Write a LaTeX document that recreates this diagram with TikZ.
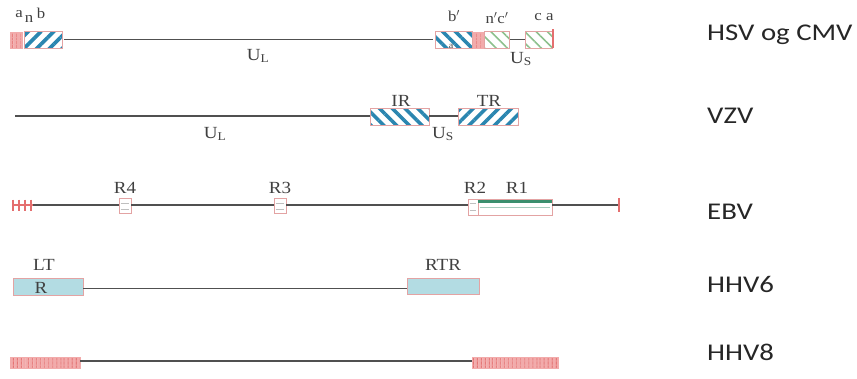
\documentclass[tikz,border=0pt]{standalone}
\usepackage{fontspec}
\usetikzlibrary{patterns.meta}
\newfontfamily\labfont[FakeStretch=1.2]{Carlito}
\newfontfamily\serfont[FakeStretch=1.12]{Liberation Serif}
\definecolor{boxedge}{HTML}{E3A3A3}
\definecolor{redmark}{HTML}{E46F6F}
\definecolor{pinkfill}{HTML}{F2ABAB}
\definecolor{hatchblue}{HTML}{2B86B0}
\definecolor{hatchgreen}{HTML}{8DC08D}
\definecolor{ltblue}{HTML}{B3DCE3}
\definecolor{rgreen}{HTML}{3A8F6E}
\definecolor{linegray}{HTML}{505050}
\tikzset{
  genome/.style={draw=linegray, line width=1.5pt},
  segbox/.style={rectangle, draw=boxedge, line width=0.9pt, inner sep=0pt},
  bluehatchR/.style={segbox, fill=white, pattern={Lines[angle=45,distance=9pt,line width=3.6pt]}, pattern color=hatchblue},
  bluehatchL/.style={segbox, fill=white, pattern={Lines[angle=-45,distance=9pt,line width=3.6pt]}, pattern color=hatchblue},
  greenhatch/.style={segbox, pattern={Lines[angle=-45,distance=8pt,line width=1.6pt]}, pattern color=hatchgreen},
  redblock/.style={rectangle, inner sep=0pt, draw=pinkfill, line width=0.6pt, preaction={fill=pinkfill}, pattern={Lines[angle=90,distance=4pt,line width=1.1pt]}, pattern color=redmark},
  redtick/.style={rectangle, inner sep=0pt, fill=redmark, minimum width=2pt},
  smallbox/.style={segbox, fill=white, minimum width=12pt, minimum height=15pt},
  serlab/.style={font=\serfont\fontsize{17}{17}\selectfont, text=black!75, inner sep=0pt},
  smalllab/.style={font=\serfont\fontsize{15}{15}\selectfont, text=black!75, inner sep=0pt},
  namelab/.style={font=\labfont\fontsize{24}{24}\selectfont, text=black!85, anchor=base west, inner sep=0pt},
}
\begin{document}
\begin{tikzpicture}[x=1pt,y=-1pt]
\useasboundingbox (0,0) rectangle (857,378);

% ---------- HSV og CMV ----------
\node[redblock, minimum width=12pt, minimum height=16pt] (h1r) at (16,40) {};
\node[bluehatchR, minimum width=38pt, minimum height=17pt] (h1a) at (43,39.5) {};
\node[bluehatchL, minimum width=37pt, minimum height=17pt] (h1b) at (453.5,39.5) {};
\node[redblock, minimum width=10pt, minimum height=16pt] (h1m) at (478,40) {};
\node[greenhatch, minimum width=25pt, minimum height=17pt] (h1c) at (496.5,39.5) {};
\node[greenhatch, minimum width=27pt, minimum height=17pt] (h1d) at (538.5,39.5) {};
\node[redtick, minimum height=19pt] (h1e) at (553,38.5) {};
\draw[genome] (h1a.east) -- (h1b.west);
\draw[genome] (h1c.east) -- (h1d.west);
\node[smalllab] (la) at (19,14) {a};
\node[smalllab] (ln) at (29,19) {n};
\node[smalllab] (lb) at (41,13) {b};
\node[serlab] (lul1) at (258,56) {U\textsubscript{L}};
\node[smalllab] (lbp) at (454,16) {b$'$};
\node[font=\serfont\fontsize{9}{9}\selectfont, text=black!75, inner sep=0pt] (lsa) at (451,46) {a};
\node[smalllab] (lnc) at (497,18) {n$'$c$'$};
\node[smalllab] (lca) at (544,17) {c a};
\node[serlab] (lus1) at (521,59) {U\textsubscript{S}};
\node[namelab] (n1) at (707,40) {HSV og CMV};

% ---------- VZV ----------
\coordinate (v0) at (15,116);
\node[bluehatchL, minimum width=59pt, minimum height=17pt] (vir) at (399.5,117) {};
\node[bluehatchR, minimum width=60pt, minimum height=17pt] (vtr) at (488,117) {};
\draw[genome] (v0) -- (vir.west |- v0);
\draw[genome] (vir.east |- v0) -- (vtr.west |- v0);
\node[serlab] (lir) at (401,101) {IR};
\node[serlab] (ltr) at (489,101) {TR};
\node[serlab] (lul2) at (215,134) {U\textsubscript{L}};
\node[serlab] (lus2) at (443,134) {U\textsubscript{S}};
\node[namelab] (n2) at (707,123) {VZV};

% ---------- EBV ----------
\node[rectangle, inner sep=0pt, minimum width=20pt, minimum height=11pt] (e0) at (23,205) {};
\foreach \xx in {13,19,25,31} {\draw[redmark, line width=1.6pt] (\xx,199.5) -- (\xx,210.5);}
\draw[redmark, line width=1.2pt] (e0.west) -- (e0.east);
\node[smallbox] (r4) at (125,206) {};
\node[smallbox] (r3) at (280,206) {};
\node[segbox, fill=white, minimum width=10pt, minimum height=16pt] (r2) at (473,207) {};
\node[segbox, fill=white, minimum width=74pt, minimum height=16pt] (r1) at (515,207) {};
\node[redtick, minimum height=14pt] (ee) at (619,205) {};
\draw[genome] (e0.east) -- (r4.west |- e0);
\draw[genome] (r4.east |- e0) -- (r3.west |- e0);
\draw[genome] (r3.east |- e0) -- (r2.west |- e0);
\draw[genome] (r1.east |- e0) -- (ee.west);
\foreach \bx in {r4,r3,r2} {
  \draw[black!25, line width=0.6pt] ([xshift=2pt,yshift=-5pt]\bx.north west) -- ([xshift=-2pt,yshift=-5pt]\bx.north east);
  \draw[black!25, line width=0.6pt] ([xshift=2pt,yshift=5pt]\bx.south west) -- ([xshift=-2pt,yshift=5pt]\bx.south east);
}
\draw[rgreen, line width=3.2pt] ([yshift=-3pt]r1.north west) -- ([yshift=-3pt]r1.north east);
\draw[rgreen!45, line width=0.8pt] ([xshift=2pt]r1.west) -- ([xshift=-2pt]r1.east);
\node[serlab] (lr4) at (125,188) {R4};
\node[serlab] (lr3) at (280,188) {R3};
\node[serlab] (lr2) at (475,188) {R2};
\node[serlab] (lr1) at (517,188) {R1};
\node[namelab] (n3) at (707,219) {EBV};

% ---------- HHV6 ----------
\node[segbox, fill=ltblue, minimum width=70pt, minimum height=17pt] (lt) at (48,286.5) {};
\node[segbox, fill=ltblue, minimum width=72pt, minimum height=16pt] (rtr) at (443,286.5) {};
\draw[genome] ([yshift=-2pt]lt.east) -- ([yshift=-2pt]rtr.west);
\node[serlab] (llt) at (44,265) {LT};
\node[serlab] (lr) at (41,288) {R};
\node[serlab] (lrtr) at (443,265) {RTR};
\node[namelab] (n4) at (707,292) {HHV6};

% ---------- HHV8 ----------
\node[redblock, minimum width=70pt, minimum height=11pt] (k1) at (45,363) {};
\node[redblock, minimum width=86pt, minimum height=11pt] (k2) at (515,363) {};
\draw[genome] ([yshift=2pt]k1.east) -- ([yshift=2pt]k2.west);
\node[namelab] (n5) at (707,360) {HHV8};
\end{tikzpicture}
\end{document}
